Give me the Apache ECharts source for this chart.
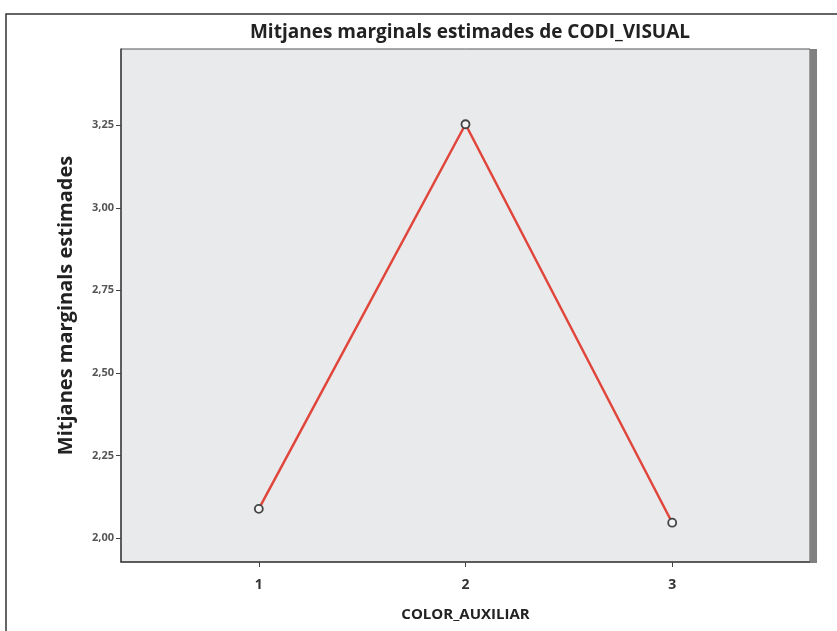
<!DOCTYPE html>
<html>
<head>
<meta charset="utf-8">
<script src="https://cdn.jsdelivr.net/npm/echarts@6/dist/echarts.min.js"></script>
<style>
html,body{margin:0;padding:0;background:#fff;}
#chart{width:837px;height:631px;}
</style>
</head>
<body>
<div id="chart"></div>
<script>
var titleText = 'Mitjanes marginals estimades de CODI_VISUAL';
var xName = 'COLOR_AUXILIAR';
var yName = 'Mitjanes marginals estimades';
var categories = [1, 2, 3];
var values = [2.088, 3.253, 2.046];
var yTicks = [2.00, 2.25, 2.50, 2.75, 3.00, 3.25];
var xTicks = [1, 2, 3];

var FONT = '"Open Sans", sans-serif';
var chart = echarts.init(document.getElementById('chart'), null, {renderer: 'canvas'});
var option = {
  animation: false,
  backgroundColor: '#ffffff',
  title: {
    text: titleText, left: 465, top: 18, textAlign: 'center',
    textStyle: {fontFamily: FONT, fontWeight: 'bold', fontSize: 19, color: '#222'}
  },
  grid: {
    left: 121, right: 27, top: 49, bottom: 69,
    show: true, backgroundColor: '#e9eaeb', borderColor: '#555', borderWidth: 1
  },
  xAxis: {
    type: 'value', min: 1/3, max: 11/3,
    name: xName, nameLocation: 'middle', nameGap: 45,
    nameTextStyle: {fontFamily: FONT, fontWeight: 'bold', fontSize: 15, color: '#222'},
    axisLine: {show: true, lineStyle: {color: '#444', width: 1.5}},
    axisTick: {show: true, length: 5, customValues: xTicks, lineStyle: {color: '#444'}},
    axisLabel: {customValues: xTicks, fontFamily: FONT, fontWeight: 'bold', fontSize: 14, color: '#333', margin: 16},
    splitLine: {show: false}
  },
  yAxis: {
    type: 'value', min: 1.927, max: 3.481,
    name: yName, nameLocation: 'middle', nameGap: 45,
    nameTextStyle: {fontFamily: FONT, fontWeight: 'bold', fontSize: 20, color: '#222'},
    axisLine: {show: true, lineStyle: {color: '#444', width: 1.5}},
    axisTick: {show: true, length: 5, customValues: yTicks, lineStyle: {color: '#444'}},
    axisLabel: {
      customValues: yTicks, fontFamily: FONT, fontWeight: 'bold', fontSize: 11, color: '#555', margin: 7,
      formatter: function (v) { return v.toFixed(2).replace('.', ','); }
    },
    splitLine: {show: false}
  },
  graphic: [
    {type: 'rect', shape: {x: 6, y: 14, width: 840, height: 630}, style: {fill: 'none', stroke: '#333', lineWidth: 1.5}, z: 100},
    {type: 'rect', shape: {x: 810, y: 49, width: 7, height: 514}, style: {fill: '#808080'}, z: 100}
  ],
  series: [{
    type: 'line',
    data: categories.map(function (c, i) { return [c, values[i]]; }),
    lineStyle: {color: '#e0463c', width: 2.5},
    symbol: 'circle', symbolSize: 8,
    itemStyle: {color: '#f4f4f4', borderColor: '#444', borderWidth: 1.8}
  }]
};
chart.setOption(option);
</script>
</body>
</html>
